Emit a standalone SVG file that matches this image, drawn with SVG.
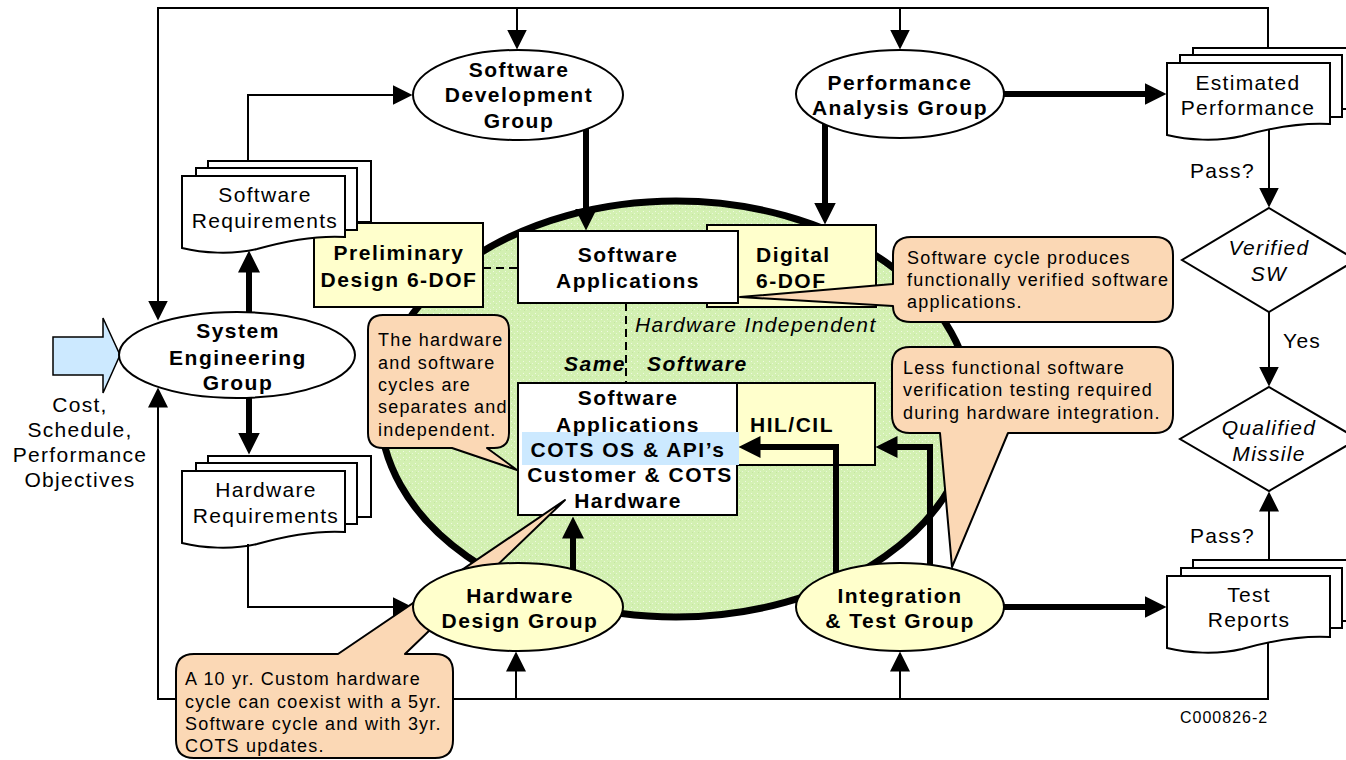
<svg xmlns="http://www.w3.org/2000/svg" width="1346" height="760" viewBox="0 0 1346 760">
<style>
text{font-family:"Liberation Sans",Arial,sans-serif;fill:#000}
.b{font-size:21px;font-weight:bold;letter-spacing:1.5px;text-anchor:middle}
.r{font-size:21px;letter-spacing:1.3px;text-anchor:middle}
.rs{font-size:21px;letter-spacing:1.3px}
.c{font-size:18px;letter-spacing:1.2px}
.i{font-size:21px;font-style:italic;letter-spacing:1.4px}
.im{font-size:21px;font-style:italic;letter-spacing:1.3px;text-anchor:middle}
.bi{font-size:21px;font-style:italic;font-weight:bold;letter-spacing:1.5px}
.bl{font-size:21px;font-weight:bold;letter-spacing:1.5px}
.node{stroke:#000;stroke-width:2}
.wh{fill:#fff}
.yl{fill:#FFFFCC}
.doc{fill:#fff;stroke:#000;stroke-width:2}
.thin{fill:none;stroke:#000;stroke-width:2}
.thick{fill:none;stroke:#000;stroke-width:6}
.dash{fill:none;stroke:#000;stroke-width:2;stroke-dasharray:8 5}
.call{fill:#FBD8B5;stroke:#000;stroke-width:2;stroke-linejoin:round}
</style>
<defs>
<marker id="ah" markerUnits="userSpaceOnUse" markerWidth="20" markerHeight="20" refX="0.5" refY="10" orient="auto">
<path d="M0,0 L20,10 L0,20 z" fill="#000"/>
</marker>
<marker id="ahT" markerUnits="userSpaceOnUse" markerWidth="22" markerHeight="22" refX="0.5" refY="11" orient="auto">
<path d="M0,0 L22,11 L0,22 z" fill="#000"/>
</marker>
<pattern id="grain" width="6" height="6" patternUnits="userSpaceOnUse">
<rect width="6" height="6" fill="#D3F0B2"/>
<rect x="1" y="1" width="1" height="1" fill="#F0FAE4"/>
<rect x="4" y="3" width="1" height="1" fill="#E8F7D8"/>
<rect x="2" y="4" width="1" height="1" fill="#C2E69F"/>
</pattern>
<path id="docshape" d="M0,0 H163 V61 C130,59 100,66 75,73 C50,79 20,77 0,72 Z"/>
</defs>

<rect width="1346" height="760" fill="#fff"/>

<g id="cycle">
<ellipse cx="676" cy="409" rx="296" ry="208" fill="url(#grain)" stroke="#000" stroke-width="7"/>
</g>

<g id="digital-6dof">
<rect x="707" y="225" width="169" height="82" class="node yl"/>
<text class="bl" x="756" y="262">Digital</text>
<text class="bl" x="756" y="288">6-DOF</text>
</g>

<g id="preliminary-design">
<rect x="314" y="223" width="169" height="84" class="node yl"/>
<text class="b" x="399" y="260">Preliminary</text>
<text class="b" x="399" y="287">Design 6-DOF</text>
</g>

<g id="software-applications">
<rect x="518" y="231" width="220" height="72" class="node wh"/>
<text class="b" x="628" y="262">Software</text>
<text class="b" x="628" y="288">Applications</text>
</g>

<g id="hil-cil">
<rect x="737" y="383" width="138" height="82" class="node yl"/>
<text class="bl" x="750" y="432">HIL/CIL</text>
</g>

<g id="target-stack">
<rect x="518" y="383" width="219" height="132" class="node wh"/>
<rect x="522" y="432" width="217" height="33" fill="#CCE9FF"/>
<text class="b" x="628" y="405">Software</text>
<text class="b" x="628" y="432">Applications</text>
<text class="b" x="628" y="457">COTS OS &amp; API’s</text>
<text class="b" x="630" y="482">Customer &amp; COTS</text>
<text class="b" x="628" y="508">Hardware</text>
</g>

<g id="labels">
<text class="i" x="635" y="332">Hardware Independent</text>
<text class="bi" x="564" y="371">Same</text>
<text class="bi" x="647" y="371">Software</text>
</g>

<g id="software-requirements">
<rect x="208" y="161" width="163" height="61" class="doc"/>
<rect x="196" y="168" width="161" height="62" class="doc"/>
<use href="#docshape" x="182" y="176" class="doc"/>
<text class="r" x="265" y="202">Software</text>
<text class="r" x="265" y="228">Requirements</text>
</g>

<g id="hardware-requirements">
<rect x="208" y="456" width="163" height="61" class="doc"/>
<rect x="196" y="463" width="161" height="61" class="doc"/>
<use href="#docshape" x="182" y="471" class="doc"/>
<text class="r" x="266" y="497">Hardware</text>
<text class="r" x="266" y="523">Requirements</text>
</g>

<g id="estimated-performance">
<rect x="1193" y="48" width="163" height="61" class="doc"/>
<rect x="1180" y="55" width="162" height="62" class="doc"/>
<use href="#docshape" x="1167" y="63" class="doc"/>
<text class="r" x="1248" y="90">Estimated</text>
<text class="r" x="1248" y="115">Performance</text>
</g>

<g id="test-reports">
<rect x="1193" y="560" width="163" height="61" class="doc"/>
<rect x="1181" y="568" width="161" height="60" class="doc"/>
<use href="#docshape" x="1167" y="576" class="doc"/>
<text class="r" x="1249" y="602">Test</text>
<text class="r" x="1249" y="627">Reports</text>
</g>

<g id="verified-sw">
<polygon points="1269,208 1356,260 1269,312 1182,260" class="node wh"/>
<text class="im" x="1269" y="255">Verified</text>
<text class="im" x="1269" y="281">SW</text>
</g>

<g id="qualified-missile">
<polygon points="1269,387 1358,439 1269,491 1180,439" class="node wh"/>
<text class="im" x="1269" y="435">Qualified</text>
<text class="im" x="1269" y="461">Missile</text>
</g>

<g id="objectives">
<polygon points="53,337 103,337 103,318 120,355 103,393 103,375 53,375" fill="#CCE9FF" stroke="#000" stroke-width="1.5"/>
<text class="r" x="80" y="412">Cost,</text>
<text class="r" x="80" y="437">Schedule,</text>
<text class="r" x="80" y="462">Performance</text>
<text class="r" x="80" y="487">Objectives</text>
</g>

<g id="connectors">
<path class="thin" d="M1268,48 V8 H158 V301" marker-end="url(#ah)"/>
<path class="thin" d="M517,8 V30" marker-end="url(#ah)"/>
<path class="thin" d="M900,8 V30" marker-end="url(#ah)"/>
<path class="thin" d="M1268,643 V699 H158 V407" marker-end="url(#ah)"/>
<path class="thin" d="M516,699 V671" marker-end="url(#ah)"/>
<path class="thin" d="M900,699 V671" marker-end="url(#ah)"/>
<path class="thin" d="M248,161 V95 H393" marker-end="url(#ah)"/>
<path class="thin" d="M248,544 V607 H393" marker-end="url(#ah)"/>
<path class="thin" d="M1269,129 V188" marker-end="url(#ah)"/>
<path class="thin" d="M1269,312 V367" marker-end="url(#ah)"/>
<path class="thin" d="M1269,560 V511" marker-end="url(#ah)"/>
<path class="dash" d="M483,268 H518"/>
<path class="dash" d="M626,303 V383"/>
<path class="thick" d="M586,129 V209" marker-end="url(#ahT)"/>
<path class="thick" d="M825,124 V203" marker-end="url(#ahT)"/>
<path class="thick" d="M1003,94 H1145" marker-end="url(#ahT)"/>
<path class="thick" d="M1003,607 H1145" marker-end="url(#ahT)"/>
<path class="thick" d="M249,312 V272" marker-end="url(#ahT)"/>
<path class="thick" d="M249,398 V433" marker-end="url(#ahT)"/>
<path class="thick" d="M573,575 V538" marker-end="url(#ahT)"/>
<path class="thick" d="M836,575 V447 H760" marker-end="url(#ahT)"/>
<path class="thick" d="M930,567 V447 H897" marker-end="url(#ahT)"/>
<text class="rs" x="1190" y="178">Pass?</text>
<text class="rs" x="1283" y="348">Yes</text>
<text class="rs" x="1190" y="543">Pass?</text>
</g>

<g id="note-cycles">
<path class="call" d="M383,315 H494 Q509,315 509,330 V433 Q509,448 494,448 H487 L517,470 L452,448 H383 Q368,448 368,433 V330 Q368,315 383,315 Z"/>
<text class="c" x="378" y="346">The hardware</text>
<text class="c" x="378" y="369">and software</text>
<text class="c" x="378" y="391">cycles are</text>
<text class="c" x="378" y="413">separates and</text>
<text class="c" x="378" y="436">independent.</text>
</g>

<g id="note-software-cycle">
<path class="call" d="M911,237 H1155 Q1173,237 1173,255 V304 Q1173,322 1155,322 H911 Q893,322 893,306 L740,297 L893,284 V255 Q893,237 911,237 Z"/>
<text class="c" x="907" y="264">Software cycle produces</text>
<text class="c" x="907" y="286">functionally verified software</text>
<text class="c" x="907" y="308">applications.</text>
</g>

<g id="note-less-testing">
<path class="call" d="M910,347 H1155 Q1173,347 1173,365 V415 Q1173,433 1155,433 H1008 L952,567 L940,433 H910 Q892,433 892,415 V365 Q892,347 910,347 Z"/>
<text class="c" x="903" y="374">Less functional software</text>
<text class="c" x="903" y="396">verification testing required</text>
<text class="c" x="903" y="419">during hardware integration.</text>
</g>

<g id="note-hardware-cycle">
<path class="call" d="M194,654 H338 L565,500 L405,654 H435 Q453,654 453,672 V740 Q453,758 435,758 H194 Q176,758 176,740 V672 Q176,654 194,654 Z"/>
<text class="c" x="185" y="685">A 10 yr. Custom hardware</text>
<text class="c" x="185" y="708">cycle can coexist with a 5yr.</text>
<text class="c" x="185" y="730">Software cycle and with 3yr.</text>
<text class="c" x="185" y="752">COTS updates.</text>
</g>

<g id="system-engineering-group">
<ellipse cx="237" cy="355" rx="118" ry="43" class="node wh"/>
<text class="b" x="238" y="338">System</text>
<text class="b" x="238" y="365">Engineering</text>
<text class="b" x="238" y="390">Group</text>
</g>

<g id="software-development-group">
<ellipse cx="518" cy="95" rx="105" ry="45" class="node wh"/>
<text class="b" x="519" y="77">Software</text>
<text class="b" x="519" y="102">Development</text>
<text class="b" x="519" y="128">Group</text>
</g>

<g id="performance-analysis-group">
<ellipse cx="900" cy="94" rx="104" ry="44" class="node wh"/>
<text class="b" x="900" y="90">Performance</text>
<text class="b" x="900" y="115">Analysis Group</text>
</g>

<g id="hardware-design-group">
<ellipse cx="518" cy="607" rx="105" ry="44" class="node yl"/>
<text class="b" x="520" y="603">Hardware</text>
<text class="b" x="520" y="628">Design Group</text>
</g>

<g id="integration-test-group">
<ellipse cx="900" cy="607" rx="104" ry="44" class="node yl"/>
<text class="b" x="900" y="603">Integration</text>
<text class="b" x="900" y="628">&amp; Test Group</text>
</g>

<text x="1180" y="723" style="font-size:16px;letter-spacing:1px">C000826-2</text>
</svg>
